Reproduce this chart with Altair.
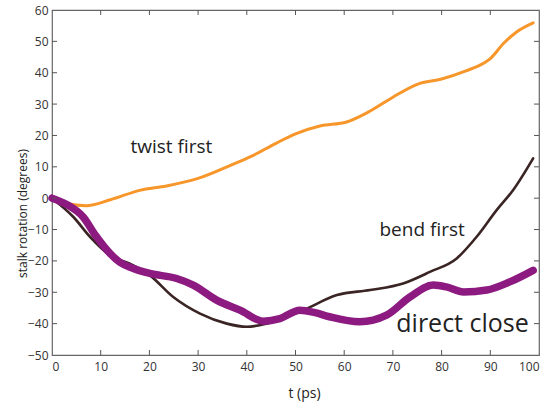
import altair as alt
import pandas as pd

# twist first (orange)
twist_t = [0, 3, 7, 12, 18, 23.5, 30, 37, 41, 46, 50, 55, 60.5, 65, 70, 75, 80, 85, 88.6, 90, 92.7, 95.4, 98.8]
twist_v = [0, -1.7, -2.4, -0.5, 2.5, 3.9, 6.3, 10.7, 13.4, 17.5, 20.5, 23, 24.3, 27.5, 32.2, 36.3, 38, 40.6, 43, 44.5, 49.3, 53, 55.9]

# bend first (dark brown)
bend_t = [0, 4.4, 7.8, 11.9, 16.7, 20.1, 24.9, 30.4, 35.9, 40, 44.1, 51.6, 58.5, 65.3, 72.1, 77.6, 83.1, 87.2, 91.3, 94.7, 98.8]
bend_v = [0, -6, -12.3, -18.2, -21.4, -24.6, -31.5, -36.8, -40, -41, -40, -35.7, -30.9, -29.3, -27.2, -23.5, -19.2, -12.3, -3.8, 2.6, 12.7]

# direct close (purple)
direct_t = [0, 3, 6.4, 9, 11.9, 14, 16.7, 20.1, 25.6, 29, 33.8, 38.6, 43.4, 46.8, 50.9, 54, 57, 63.2, 68.7, 73.5, 78.3, 81, 84.5, 89.3, 94, 98.8]
direct_v = [0, -2, -6, -12, -17.6, -20.5, -22.4, -24, -25.6, -27.7, -32.5, -35.7, -39.2, -38.4, -35.7, -36.5, -37.8, -39.4, -37.3, -31.5, -27.7, -28.3, -29.9, -29.3, -26.7, -23]

x_ticks = [0, 10, 20, 30, 40, 50, 60, 70, 80, 90, 100]
y_ticks = [-50, -40, -30, -20, -10, 0, 10, 20, 30, 40, 50, 60]

labels_text = ["twist first", "bend first", "direct close"]
labels_t = [24.5, 76, 84.3]
labels_v = [16.3, -10.2, -40]
labels_size = [19, 19, 25]

W, H = 487, 345

xs = alt.Scale(domain=[0, 100], nice=False, zero=False)
ys = alt.Scale(domain=[-50, 60], nice=False, zero=False)

x_axis = alt.Axis(values=x_ticks, title="t (ps)", tickSize=0, labelPadding=6, titlePadding=14,
                  titleX=252, format="d", grid=False, domain=False, labelOverlap=False,
                  labelFont="Open Sans", labelFontSize=12, labelColor="#333333",
                  titleFont="Open Sans", titleFontSize=14, titleFontWeight="normal",
                  titleColor="#222222")
y_axis = alt.Axis(values=y_ticks, title="stalk rotation (degrees)", tickSize=0, labelPadding=4,
                  titleX=-30, titleY=203, titleBaseline="middle", format="d", grid=False,
                  domain=False, labelOverlap=False, labelFont="Open Sans", labelFontSize=12,
                  labelColor="#333333", titleFont="Open Sans", titleFontSize=12,
                  titleFontWeight="normal", titleColor="#222222")


def series(t, v):
    return pd.DataFrame({"t": t, "v": v})


def line(df, color, width):
    return alt.Chart(df).mark_line(color=color, strokeWidth=width, interpolate="monotone",
                                   strokeCap="round").encode(
        x=alt.X("t:Q", scale=xs, axis=x_axis),
        y=alt.Y("v:Q", scale=ys, axis=y_axis),
    )


orange = line(series(twist_t, twist_v), "#F7962A", 3)
brown = line(series(bend_t, bend_v), "#3A2424", 2.6)
purple = line(series(direct_t, direct_v), "#8C1A80", 7.5)

xt = pd.DataFrame({"t": x_ticks[1:-1]})
yt = pd.DataFrame({"v": y_ticks[1:-1]})
tick_color = "#555555"
bottom_ticks = alt.Chart(xt).mark_rule(color=tick_color, strokeWidth=1).encode(
    x=alt.X("t:Q", scale=xs, axis=x_axis), y=alt.value(H), y2=alt.value(H - 5))
top_ticks = alt.Chart(xt).mark_rule(color=tick_color, strokeWidth=1).encode(
    x=alt.X("t:Q", scale=xs, axis=x_axis), y=alt.value(0), y2=alt.value(5))
left_ticks = alt.Chart(yt).mark_rule(color=tick_color, strokeWidth=1).encode(
    y=alt.Y("v:Q", scale=ys, axis=y_axis), x=alt.value(0), x2=alt.value(5))
right_ticks = alt.Chart(yt).mark_rule(color=tick_color, strokeWidth=1).encode(
    y=alt.Y("v:Q", scale=ys, axis=y_axis), x=alt.value(W), x2=alt.value(W - 5))

lab_df = pd.DataFrame({"text": labels_text, "t": labels_t, "v": labels_v, "size": labels_size})
texts = alt.Chart(lab_df).mark_text(font="Open Sans", color="#222222", align="center",
                                     baseline="middle").encode(
    x=alt.X("t:Q", scale=xs, axis=x_axis), y=alt.Y("v:Q", scale=ys, axis=y_axis),
    text="text:N",
    size=alt.Size("size:Q", scale=None, legend=None))

chart = alt.layer(orange, brown, purple, bottom_ticks, top_ticks, left_ticks, right_ticks, texts).properties(
    width=W, height=H,
    background="white",
    autosize=alt.AutoSizeParams(type="none"),
    padding={"left": 52, "top": 10, "right": 15, "bottom": 49},
).configure_view(stroke="#666666", strokeWidth=1.2)

chart.save("out.html", embed_options={"renderer": "svg", "actions": False})
